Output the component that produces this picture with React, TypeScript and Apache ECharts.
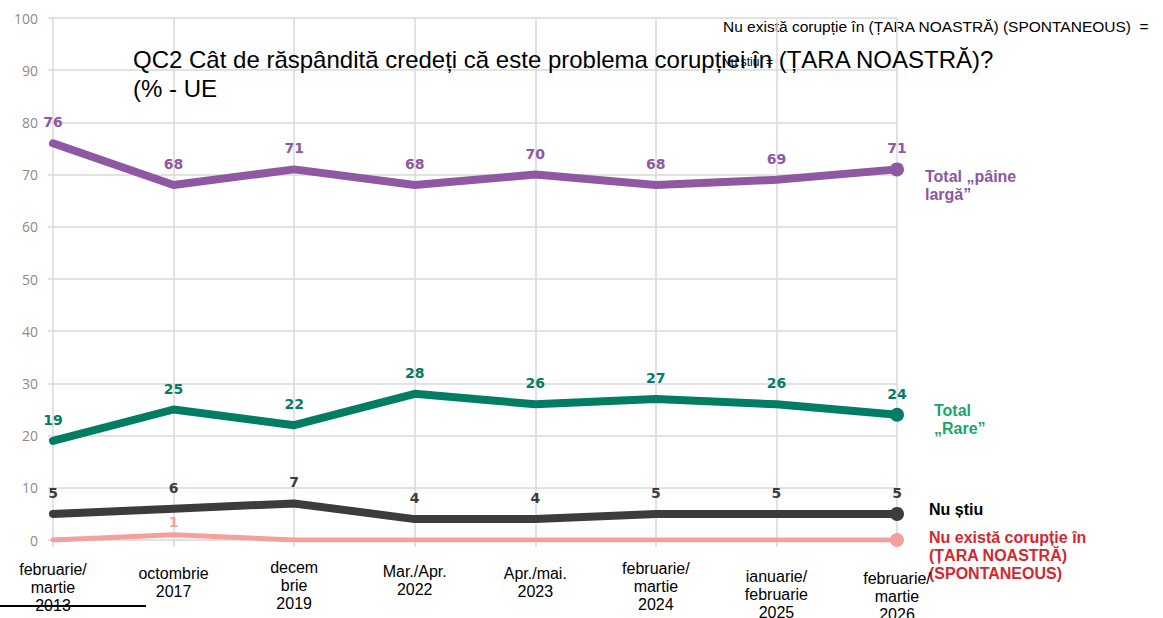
import React, { useEffect, useRef } from "react";
import * as echarts from "echarts";

const categories = [
  "februarie/\nmartie\n2013",
  "octombrie\n2017",
  "decem\nbrie\n2019",
  "Mar./Apr.\n2022",
  "Apr./mai.\n2023",
  "februarie/\nmartie\n2024",
  "ianuarie/\nfebruarie\n2025",
  "februarie/\nmartie\n2026",
];
const labelOffsets = [3, 7, 1, 5, 7, 2, 10, 12];

const painelarga = [76, 68, 71, 68, 70, 68, 69, 71];
const rare = [19, 25, 22, 28, 26, 27, 26, 24];
const nustiu = [5, 6, 7, 4, 4, 5, 5, 5];
const nuexista = [0, 1, 0, 0, 0, 0, 0, 0];

const yTicks = { min: 0, max: 100, interval: 10 };

const TITLE = "QC2 Cât de răspândită credeți că este problema corupției în (ȚARA NOASTRĂ)?\n(% - UE";

function mkSeries(
  name: string,
  data: number[],
  color: string,
  width: number,
  labelDist: number,
  showLabel: (i: number, v: number) => boolean,
  z: number
) {
  const last = data.length - 1;
  return {
    name,
    type: "line",
    z,
    data: data.map((v, i) => ({
      value: v,
      label: {
        show: showLabel(i, v),
        distance: i === last ? labelDist - 7 : labelDist,
      },
    })),
    symbol: "circle",
    symbolSize: (_v: any, p: any) => (p.dataIndex === last ? 14 : 0),
    showAllSymbol: true,
    lineStyle: { color, width, cap: "round", join: "round" },
    itemStyle: { color },
    label: {
      show: true,
      position: "top",
      color,
      fontFamily: "DejaVu Sans",
      fontWeight: "bold",
      fontSize: 14,
    },
  };
}

export default function App() {
  const ref = useRef<HTMLDivElement>(null);
  useEffect(() => {
    if (!ref.current) return;
    const chart = echarts.init(ref.current, null, { renderer: "svg" });
    const option: any = {
      animation: false,
      backgroundColor: "#ffffff",
      title: {
        text: TITLE,
        left: 133,
        top: 45,
        padding: 0,
        textStyle: {
          fontFamily: "Liberation Sans",
          fontSize: 24,
          fontWeight: "normal",
          color: "#000",
          lineHeight: 29,
        },
      },
      grid: {
        left: 53,
        right: 266,
        top: 18,
        bottom: 78,
        containLabel: false,
        outerBoundsMode: "none",
      },
      xAxis: {
        type: "category",
        boundaryGap: false,
        data: categories.map((c, i) => ({
          value: c,
          textStyle: { padding: [labelOffsets[i], 0, 0, 0] },
        })),
        axisLine: { show: false },
        axisTick: { show: true, length: 7, lineStyle: { color: "#d9d9d9", width: 1.5 } },
        splitLine: { show: true, lineStyle: { color: "#d9d9d9", width: 1.5 } },
        axisLabel: {
          interval: 0,
          margin: 17,
          verticalAlign: "top",
          fontFamily: "Liberation Sans",
          fontSize: 16,
          lineHeight: 18,
          color: "#000",
        },
      },
      yAxis: {
        type: "value",
        min: yTicks.min,
        max: yTicks.max,
        interval: yTicks.interval,
        axisLine: { show: false },
        axisTick: { show: true, length: 5, lineStyle: { color: "#d9d9d9", width: 1.5 } },
        splitLine: { show: true, lineStyle: { color: "#d9d9d9", width: 1.5 } },
        axisLabel: {
          margin: 15,
          fontFamily: "Open Sans",
          fontSize: 14,
          color: "#8f8a8a",
        },
      },
      series: [
        mkSeries("Nu există corupție în (ȚARA NOASTRĂ) (SPONTANEOUS)", nuexista, "#f4a19e", 5, 6, (_i, v) => v > 0, 2),
        mkSeries("Nu știu", nustiu, "#3c3b3d", 8, 14, () => true, 3),
        mkSeries("Total „Rare”", rare, "#007d62", 8, 14, () => true, 4),
        mkSeries("Total „pâine largă”", painelarga, "#8e59a2", 8, 14, () => true, 5),
      ],
      graphic: [
        {
          type: "text",
          left: 723,
          top: 18,
          style: {
            text: "Nu există corupție în (ȚARA NOASTRĂ) (SPONTANEOUS)  =",
            font: "15.5px 'Liberation Sans'",
            fill: "#000",
          },
        },
        {
          type: "text",
          left: 722,
          top: 56,
          style: { text: "Nu știu  =", font: "12px 'Liberation Sans'", fill: "#000" },
        },
        {
          type: "text",
          left: 925,
          top: 167,
          style: {
            text: "Total „pâine\nlargă”",
            font: "bold 16px 'Liberation Sans'",
            fill: "#8a57a5",
            lineHeight: 18,
          },
        },
        {
          type: "text",
          left: 934,
          top: 401,
          style: {
            text: "Total\n„Rare”",
            font: "bold 16px 'Liberation Sans'",
            fill: "#1aa56c",
            lineHeight: 18,
          },
        },
        {
          type: "text",
          left: 929,
          top: 501,
          style: { text: "Nu știu", font: "bold 16px 'Liberation Sans'", fill: "#000" },
        },
        {
          type: "text",
          left: 929,
          top: 528,
          style: {
            text: "Nu există corupție în\n(ȚARA NOASTRĂ)\n(SPONTANEOUS)",
            font: "bold 16px 'Liberation Sans'",
            fill: "#d7262e",
            lineHeight: 18,
          },
        },
        {
          type: "line",
          z: 100,
          shape: { x1: 0, y1: 606, x2: 146, y2: 606 },
          style: { stroke: "#000", lineWidth: 2 },
        },
      ],
    };
    chart.setOption(option);
    return () => chart.dispose();
  }, []);
  return (
    <div
      ref={ref}
      style={{ position: "fixed", left: 0, top: 0, width: 1163, height: 618 }}
    />
  );
}
